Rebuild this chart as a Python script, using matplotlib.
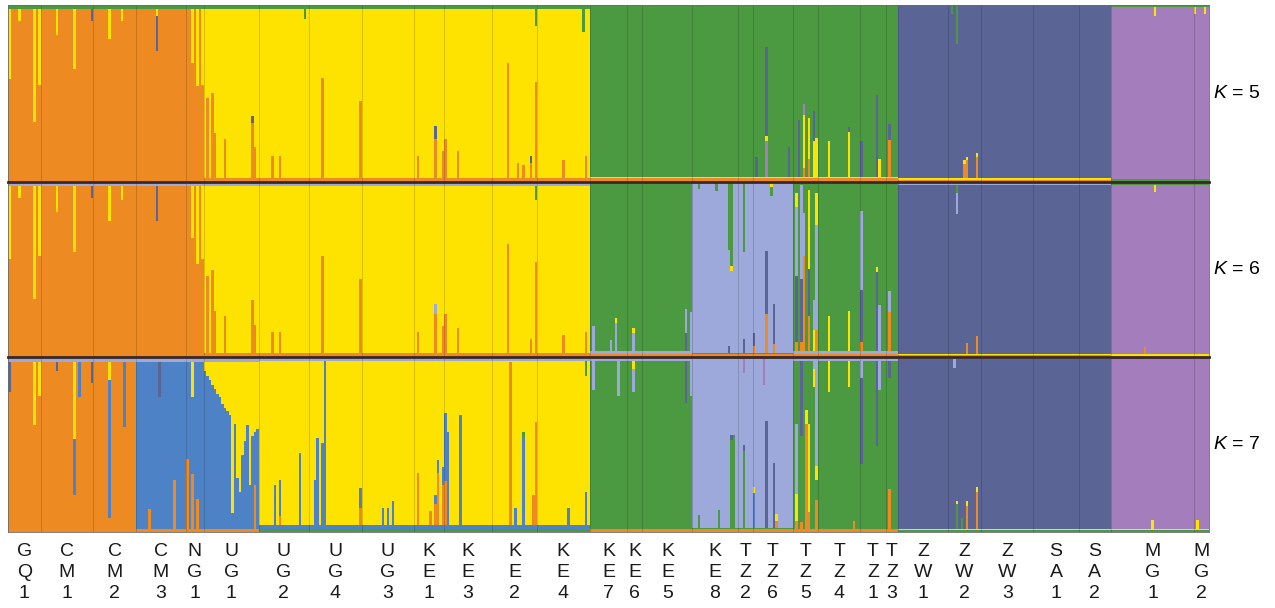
import numpy as np
import matplotlib.pyplot as plt
import matplotlib.transforms as mtransforms

plt.rcParams['font.family'] = ['Liberation Sans', 'DejaVu Sans']
plt.rcParams['mathtext.fontset'] = 'custom'
plt.rcParams['mathtext.rm'] = 'Liberation Sans'
plt.rcParams['mathtext.it'] = 'Liberation Sans:italic'

# populations in plotting order, and number of individuals in each
POPS = ['GQ1', 'CM1', 'CM2', 'CM3', 'NG1', 'UG1', 'UG2', 'UG4', 'UG3', 'KE1',
        'KE3', 'KE2', 'KE4', 'KE7', 'KE6', 'KE5', 'KE8', 'TZ2', 'TZ6', 'TZ5',
        'TZ4', 'TZ1', 'TZ3', 'ZW1', 'ZW2', 'ZW3', 'SA1', 'SA2', 'MG1', 'MG2']
N_IND = [13, 21, 17, 20, 7, 22, 20, 21, 21, 12,
         19, 18, 21, 15, 6, 20, 18, 6, 16, 10,
         17, 10, 5, 20, 13, 21, 18, 13, 33, 6]

# cluster colours: O orange, Y yellow, G green, S slate, P purple, L light blue, B blue
COLORS = {'O': '#EE8A22', 'Y': '#FFE300', 'G': '#4B9A42', 'S': '#5A6596',
          'P': '#A37DBC', 'L': '#9CA9DA', 'B': '#4E82C7'}

# main cluster of each population
DOM_K5 = ['O', 'O', 'O', 'O', 'O', 'Y', 'Y', 'Y', 'Y', 'Y',
          'Y', 'Y', 'Y', 'G', 'G', 'G', 'G', 'G', 'G', 'G',
          'G', 'G', 'G', 'S', 'S', 'S', 'S', 'S', 'P', 'P']
DOM_K6 = ['O', 'O', 'O', 'O', 'O', 'Y', 'Y', 'Y', 'Y', 'Y',
          'Y', 'Y', 'Y', 'G', 'G', 'G', 'L', 'L', 'L', 'G',
          'G', 'G', 'G', 'S', 'S', 'S', 'S', 'S', 'P', 'P']
DOM_K7 = ['O', 'O', 'O', 'B', 'B', 'B', 'Y', 'Y', 'Y', 'Y',
          'Y', 'Y', 'Y', 'G', 'G', 'G', 'L', 'L', 'L', 'G',
          'G', 'G', 'G', 'S', 'S', 'S', 'S', 'S', 'P', 'P']

# thin background admixture band, by main cluster: (cluster, fraction, side)
BANDS_K5 = {'O': [('G', 0.02, 't')],
            'Y': [('O', 0.025, 'b'), ('G', 0.02, 't')],
            'G': [('O', 0.02, 'b'), ('Y', 0.01, 'b')],
            'S': [('O', 0.01, 'b'), ('Y', 0.012, 'b')],
            'P': [('G', 0.015, 'b'), ('G', 0.012, 't')]}
BANDS_K6 = {'O': [('L', 0.02, 't')],
            'Y': [('O', 0.025, 'b'), ('L', 0.02, 't')],
            'G': [('O', 0.02, 'b'), ('L', 0.015, 'b')],
            'L': [('O', 0.015, 'b'), ('G', 0.01, 'b')],
            'S': [('O', 0.01, 'b'), ('Y', 0.01, 'b'), ('L', 0.015, 't')],
            'P': [('Y', 0.015, 'b'), ('G', 0.015, 't')]}
BANDS_K7 = {'O': [('L', 0.03, 't')],
            'B': [('O', 0.02, 'b'), ('L', 0.03, 't')],
            'Y': [('G', 0.02, 'b'), ('B', 0.02, 'b'), ('L', 0.02, 't')],
            'G': [('O', 0.015, 'b'), ('L', 0.02, 't')],
            'L': [('O', 0.015, 'b'), ('G', 0.01, 'b')],
            'S': [('G', 0.01, 'b'), ('Y', 0.008, 'b'), ('L', 0.01, 't')],
            'P': [('G', 0.012, 'b'), ('Y', 0.008, 'b')]}

# admixed individuals: (population, index in population, cluster, fraction, side)
SPIKES_K5 = [
    ('GQ1', 0, 'Y', 0.40, 't'), ('GQ1', 4, 'Y', 0.07, 't'), ('GQ1', 10, 'Y', 0.64, 't'),
    ('GQ1', 12, 'Y', 0.43, 't'), ('CM1', 6, 'Y', 0.15, 't'), ('CM1', 13, 'Y', 0.34, 't'),
    ('CM1', 20, 'S', 0.07, 't'), ('CM2', 6, 'Y', 0.17, 't'), ('CM2', 11, 'Y', 0.07, 't'),
    ('CM3', 8, 'Y', 0.04, 't'), ('CM3', 8, 'S', 0.20, 't'), ('NG1', 2, 'Y', 0.31, 't'),
    ('NG1', 4, 'Y', 0.44, 't'), ('NG1', 6, 'Y', 0.43, 't'),
    ('UG1', 1, 'O', 0.45, 'b'), ('UG1', 3, 'O', 0.48, 'b'), ('UG1', 4, 'O', 0.25, 'b'),
    ('UG1', 8, 'O', 0.22, 'b'), ('UG1', 19, 'O', 0.31, 'b'), ('UG1', 19, 'S', 0.04, 'b'),
    ('UG1', 20, 'O', 0.17, 'b'), ('UG2', 5, 'O', 0.12, 'b'), ('UG2', 8, 'O', 0.12, 'b'),
    ('UG2', 18, 'G', 0.06, 't'), ('UG4', 5, 'O', 0.56, 'b'), ('UG4', 20, 'O', 0.43, 'b'),
    ('KE1', 1, 'O', 0.12, 'b'), ('KE1', 8, 'O', 0.22, 'b'), ('KE1', 8, 'S', 0.07, 'b'),
    ('KE1', 11, 'O', 0.15, 'b'), ('KE3', 0, 'O', 0.22, 'b'), ('KE3', 5, 'O', 0.15, 'b'),
    ('KE2', 6, 'O', 0.65, 'b'), ('KE2', 10, 'O', 0.08, 'b'), ('KE2', 12, 'O', 0.07, 'b'),
    ('KE2', 15, 'O', 0.08, 'b'), ('KE2', 15, 'S', 0.04, 'b'), ('KE2', 17, 'O', 0.54, 'b'),
    ('KE2', 17, 'G', 0.10, 't'), ('KE4', 10, 'O', 0.10, 'b'), ('KE4', 18, 'G', 0.13, 't'),
    ('KE4', 19, 'O', 0.12, 'b'),
    ('TZ6', 1, 'S', 0.11, 'b'), ('TZ6', 5, 'P', 0.20, 'b'), ('TZ6', 5, 'Y', 0.03, 'b'),
    ('TZ6', 5, 'S', 0.50, 'b'), ('TZ6', 14, 'S', 0.17, 'b'), ('TZ5', 2, 'S', 0.32, 'b'),
    ('TZ5', 4, 'O', 0.05, 'b'), ('TZ5', 4, 'Y', 0.30, 'b'), ('TZ5', 4, 'P', 0.06, 'b'),
    ('TZ5', 6, 'O', 0.10, 'b'), ('TZ5', 6, 'Y', 0.23, 'b'), ('TZ5', 8, 'Y', 0.20, 'b'),
    ('TZ5', 8, 'S', 0.17, 'b'), ('TZ5', 9, 'Y', 0.22, 'b'), ('TZ4', 4, 'Y', 0.20, 'b'),
    ('TZ4', 12, 'Y', 0.25, 'b'), ('TZ4', 12, 'S', 0.03, 'b'), ('TZ1', 0, 'S', 0.20, 'b'),
    ('TZ1', 6, 'S', 0.46, 'b'), ('TZ1', 7, 'Y', 0.10, 'b'), ('TZ3', 1, 'O', 0.21, 'b'),
    ('TZ3', 1, 'S', 0.09, 'b'),
    ('ZW2', 1, 'G', 0.05, 't'), ('ZW2', 3, 'G', 0.22, 't'), ('ZW2', 6, 'O', 0.08, 'b'),
    ('ZW2', 6, 'Y', 0.02, 'b'), ('ZW2', 7, 'O', 0.10, 'b'), ('ZW2', 7, 'Y', 0.02, 'b'),
    ('ZW2', 11, 'O', 0.12, 'b'), ('ZW2', 11, 'Y', 0.02, 'b'), ('MG1', 17, 'Y', 0.05, 't'),
    ('MG2', 0, 'Y', 0.04, 't'), ('MG2', 4, 'Y', 0.04, 't'),
]

SPIKES_K6 = [
    ('GQ1', 0, 'Y', 0.42, 't'), ('GQ1', 4, 'Y', 0.07, 't'), ('GQ1', 10, 'Y', 0.65, 't'),
    ('GQ1', 12, 'Y', 0.40, 't'), ('CM1', 6, 'Y', 0.15, 't'), ('CM1', 13, 'Y', 0.38, 't'),
    ('CM1', 20, 'S', 0.07, 't'), ('CM2', 6, 'Y', 0.20, 't'), ('CM2', 11, 'Y', 0.08, 't'),
    ('CM3', 8, 'S', 0.20, 't'), ('NG1', 2, 'Y', 0.30, 't'), ('NG1', 4, 'Y', 0.45, 't'),
    ('NG1', 6, 'Y', 0.42, 't'),
    ('UG1', 1, 'O', 0.44, 'b'), ('UG1', 3, 'O', 0.47, 'b'), ('UG1', 4, 'O', 0.24, 'b'),
    ('UG1', 8, 'O', 0.21, 'b'), ('UG1', 19, 'O', 0.30, 'b'), ('UG1', 20, 'O', 0.16, 'b'),
    ('UG2', 5, 'O', 0.12, 'b'), ('UG2', 8, 'O', 0.12, 'b'), ('UG4', 5, 'O', 0.55, 'b'),
    ('UG4', 20, 'O', 0.42, 'b'), ('KE1', 1, 'O', 0.12, 'b'), ('KE1', 8, 'O', 0.22, 'b'),
    ('KE1', 8, 'L', 0.06, 'b'), ('KE1', 11, 'O', 0.15, 'b'), ('KE3', 0, 'O', 0.22, 'b'),
    ('KE3', 5, 'O', 0.14, 'b'), ('KE2', 6, 'O', 0.62, 'b'), ('KE2', 15, 'O', 0.08, 'b'),
    ('KE2', 17, 'O', 0.52, 'b'), ('KE2', 17, 'G', 0.08, 't'), ('KE4', 10, 'O', 0.10, 'b'),
    ('KE4', 19, 'O', 0.12, 'b'),
    ('KE7', 1, 'L', 0.14, 'b'), ('KE7', 8, 'L', 0.06, 'b'), ('KE7', 10, 'L', 0.16, 'b'),
    ('KE7', 10, 'Y', 0.03, 'b'), ('KE6', 2, 'L', 0.10, 'b'), ('KE6', 2, 'Y', 0.03, 'b'),
    ('KE5', 17, 'S', 0.10, 'b'), ('KE5', 17, 'L', 0.14, 'b'), ('KE5', 19, 'L', 0.22, 'b'),
    ('KE8', 2, 'G', 0.04, 't'), ('KE8', 9, 'G', 0.05, 't'), ('KE8', 14, 'G', 0.39, 't'),
    ('KE8', 14, 'S', 0.04, 'b'), ('KE8', 15, 'G', 0.48, 't'), ('KE8', 15, 'Y', 0.03, 't'),
    ('TZ2', 2, 'G', 0.40, 't'), ('TZ2', 2, 'S', 0.08, 'b'), ('TZ6', 0, 'O', 0.04, 'b'),
    ('TZ6', 0, 'S', 0.07, 'b'), ('TZ6', 5, 'O', 0.22, 'b'), ('TZ6', 5, 'S', 0.36, 'b'),
    ('TZ6', 7, 'Y', 0.03, 't'), ('TZ6', 7, 'G', 0.05, 't'), ('TZ6', 8, 'O', 0.05, 'b'),
    ('TZ6', 8, 'S', 0.23, 'b'),
    ('TZ5', 1, 'O', 0.05, 'b'), ('TZ5', 1, 'S', 0.38, 'b'), ('TZ5', 1, 'L', 0.39, 'b'),
    ('TZ5', 1, 'Y', 0.08, 'b'), ('TZ5', 3, 'O', 0.05, 'b'), ('TZ5', 3, 'S', 0.36, 'b'),
    ('TZ5', 3, 'L', 0.54, 'b'), ('TZ5', 4, 'O', 0.54, 'b'), ('TZ5', 4, 'L', 0.25, 'b'),
    ('TZ5', 6, 'O', 0.20, 'b'), ('TZ5', 6, 'S', 0.27, 'b'), ('TZ5', 6, 'Y', 0.45, 'b'),
    ('TZ5', 8, 'Y', 0.12, 'b'), ('TZ5', 8, 'L', 0.17, 'b'), ('TZ5', 9, 'O', 0.12, 'b'),
    ('TZ5', 9, 'L', 0.60, 'b'), ('TZ5', 9, 'Y', 0.18, 'b'), ('TZ4', 4, 'Y', 0.20, 'b'),
    ('TZ4', 12, 'Y', 0.23, 'b'), ('TZ1', 0, 'O', 0.05, 'b'), ('TZ1', 0, 'S', 0.30, 'b'),
    ('TZ1', 0, 'L', 0.45, 'b'), ('TZ1', 6, 'S', 0.45, 'b'), ('TZ1', 6, 'Y', 0.03, 'b'),
    ('TZ1', 7, 'L', 0.26, 'b'), ('TZ3', 1, 'O', 0.22, 'b'), ('TZ3', 1, 'L', 0.12, 'b'),
    ('ZW2', 3, 'G', 0.05, 't'), ('ZW2', 3, 'L', 0.12, 't'), ('ZW2', 7, 'O', 0.06, 'b'),
    ('ZW2', 11, 'O', 0.10, 'b'), ('MG1', 13, 'O', 0.04, 'b'), ('MG1', 17, 'Y', 0.04, 't'),
]

# UG1 at K = 7: yellow share from the top of each individual
UG1_K7_YELLOW = [0.05, 0.08, 0.10, 0.13, 0.15, 0.18, 0.20, 0.24, 0.26, 0.28, 0.30,
                 0.86, 0.35, 0.66, 0.74, 0.53, 0.45, 0.36, 0.70, 0.42, 0.40, 0.38]

SPIKES_K7 = [
    ('GQ1', 0, 'S', 0.17, 't'), ('GQ1', 10, 'Y', 0.36, 't'), ('GQ1', 12, 'Y', 0.19, 't'),
    ('CM1', 6, 'S', 0.05, 't'), ('CM1', 13, 'Y', 0.44, 't'), ('CM1', 13, 'B', 0.32, 't'),
    ('CM1', 15, 'B', 0.20, 't'), ('CM1', 20, 'S', 0.12, 't'), ('CM2', 6, 'Y', 0.10, 't'),
    ('CM2', 6, 'B', 0.79, 't'), ('CM2', 12, 'B', 0.37, 't'),
    ('CM3', 5, 'O', 0.11, 'b'), ('CM3', 9, 'S', 0.20, 't'), ('CM3', 15, 'O', 0.28, 'b'),
    ('NG1', 0, 'O', 0.40, 'b'), ('NG1', 2, 'O', 0.31, 'b'), ('NG1', 2, 'Y', 0.20, 't'),
    ('NG1', 4, 'O', 0.17, 'b'), ('UG1', 20, 'O', 0.25, 'b'),
    ('UG2', 6, 'B', 0.23, 'b'), ('UG2', 8, 'O', 0.05, 'b'), ('UG2', 8, 'B', 0.21, 'b'),
    ('UG2', 16, 'B', 0.41, 'b'), ('UG4', 2, 'B', 0.26, 'b'), ('UG4', 3, 'B', 0.50, 'b'),
    ('UG4', 5, 'B', 0.47, 'b'), ('UG4', 6, 'B', 0.94, 'b'), ('UG4', 20, 'O', 0.10, 'b'),
    ('UG4', 20, 'B', 0.11, 'b'), ('UG3', 8, 'B', 0.10, 'b'), ('UG3', 10, 'B', 0.10, 'b'),
    ('UG3', 12, 'B', 0.14, 'b'), ('KE1', 1, 'O', 0.30, 'b'), ('KE1', 6, 'O', 0.08, 'b'),
    ('KE1', 8, 'O', 0.12, 'b'), ('KE1', 8, 'B', 0.05, 'b'), ('KE1', 9, 'O', 0.30, 'b'),
    ('KE1', 9, 'B', 0.07, 'b'), ('KE1', 11, 'O', 0.23, 'b'), ('KE1', 11, 'B', 0.10, 'b'),
    ('KE3', 0, 'O', 0.25, 'b'), ('KE3', 0, 'B', 0.39, 'b'), ('KE3', 1, 'B', 0.53, 'b'),
    ('KE3', 6, 'B', 0.63, 'b'), ('KE2', 7, 'O', 0.93, 'b'), ('KE2', 9, 'B', 0.10, 'b'),
    ('KE2', 12, 'B', 0.50, 'b'), ('KE2', 12, 'G', 0.03, 'b'), ('KE2', 16, 'O', 0.17, 'b'),
    ('KE2', 17, 'O', 0.59, 'b'), ('KE4', 12, 'B', 0.10, 'b'), ('KE4', 19, 'B', 0.19, 'b'),
    ('KE4', 19, 'G', 0.09, 't'),
    ('KE7', 1, 'L', 0.17, 't'), ('KE7', 11, 'L', 0.20, 't'), ('KE6', 2, 'Y', 0.05, 't'),
    ('KE6', 2, 'L', 0.13, 't'), ('KE5', 17, 'S', 0.24, 't'), ('KE5', 19, 'L', 0.20, 't'),
    ('KE8', 2, 'G', 0.07, 'b'), ('KE8', 10, 'G', 0.10, 'b'), ('KE8', 15, 'G', 0.50, 'b'),
    ('KE8', 15, 'S', 0.03, 'b'), ('KE8', 16, 'G', 0.53, 'b'), ('TZ2', 2, 'G', 0.44, 'b'),
    ('TZ2', 2, 'S', 0.03, 'b'), ('TZ2', 2, 'P', 0.09, 't'), ('TZ6', 0, 'B', 0.20, 'b'),
    ('TZ6', 0, 'Y', 0.03, 'b'), ('TZ6', 4, 'P', 0.16, 't'), ('TZ6', 5, 'S', 0.61, 'b'),
    ('TZ6', 8, 'S', 0.37, 'b'), ('TZ6', 9, 'O', 0.04, 'b'), ('TZ6', 9, 'Y', 0.04, 'b'),
    ('TZ5', 1, 'O', 0.05, 'b'), ('TZ5', 1, 'Y', 0.15, 'b'), ('TZ5', 1, 'L', 0.40, 'b'),
    ('TZ5', 3, 'S', 0.43, 't'), ('TZ5', 3, 'O', 0.04, 'b'), ('TZ5', 5, 'O', 0.60, 'b'),
    ('TZ5', 5, 'Y', 0.08, 'b'), ('TZ5', 6, 'O', 0.10, 'b'), ('TZ5', 6, 'Y', 0.50, 'b'),
    ('TZ5', 8, 'L', 0.05, 't'), ('TZ5', 8, 'Y', 0.10, 't'), ('TZ5', 9, 'L', 0.60, 't'),
    ('TZ5', 9, 'Y', 0.08, 't'), ('TZ5', 9, 'O', 0.17, 'b'), ('TZ4', 4, 'Y', 0.18, 't'),
    ('TZ4', 12, 'Y', 0.15, 't'), ('TZ4', 14, 'O', 0.05, 'b'), ('TZ1', 0, 'L', 0.10, 't'),
    ('TZ1', 0, 'S', 0.49, 't'), ('TZ1', 6, 'S', 0.49, 't'), ('TZ1', 7, 'L', 0.17, 't'),
    ('TZ3', 1, 'S', 0.10, 't'), ('TZ3', 1, 'O', 0.23, 'b'),
    ('ZW2', 2, 'L', 0.05, 't'), ('ZW2', 3, 'G', 0.14, 'b'), ('ZW2', 3, 'Y', 0.02, 'b'),
    ('ZW2', 5, 'G', 0.06, 'b'), ('ZW2', 7, 'O', 0.13, 'b'), ('ZW2', 7, 'Y', 0.03, 'b'),
    ('ZW2', 11, 'O', 0.21, 'b'), ('ZW2', 11, 'Y', 0.03, 'b'), ('MG1', 16, 'Y', 0.05, 'b'),
    ('MG2', 1, 'Y', 0.05, 'b'),
]
SPIKES_K7 += [('UG1', i, 'Y', v, 't') for i, v in enumerate(UG1_K7_YELLOW)]


def build_segments(dom, bands, spikes):
    # one list of (cluster, fraction) per individual, from bottom to top
    bottoms, tops, doms = [], [], []
    for p, n in enumerate(N_IND):
        for i in range(n):
            b = [(c, f) for c, f, s in bands[dom[p]] if s == 'b']
            t = [(c, f) for c, f, s in bands[dom[p]] if s == 't']
            bottoms.append(b)
            tops.append(t)
            doms.append(dom[p])
    start = np.concatenate([[0], np.cumsum(N_IND)[:-1]])
    for pop, idx, c, f, side in spikes:
        k = start[POPS.index(pop)] + idx
        (bottoms if side == 'b' else tops)[k].append((c, f))
    segs = []
    for b, t, d in zip(bottoms, tops, doms):
        rest = max(0.0, 1.0 - sum(f for _, f in b) - sum(f for _, f in t))
        segs.append(b + [(d, rest)] + t[::-1])
    return segs


def draw_panel(ax, segs):
    nlayer = max(len(s) for s in segs)
    cum = np.zeros(len(segs))
    for j in range(nlayer):
        xs, hs, bs, cs = [], [], [], []
        for i, s in enumerate(segs):
            if j < len(s):
                c, f = s[j]
                xs.append(i)
                hs.append(f)
                bs.append(cum[i])
                cs.append(COLORS[c])
                cum[i] += f
        ax.bar(xs, hs, bottom=bs, width=1.0, align='edge', color=cs, linewidth=0)
    bounds = np.cumsum(N_IND)[:-1]
    ax.vlines(bounds, 0, 1, color='black', alpha=0.18, linewidth=0.6)
    ax.set_xlim(0, sum(N_IND))
    ax.set_ylim(0, 1)
    ax.set_xticks([])
    ax.set_yticks([])
    for sp in ax.spines.values():
        sp.set_color('#6a6a6a')
        sp.set_linewidth(0.6)


fig = plt.figure(figsize=(12.75, 6.08), dpi=100)
L, W = 8 / 1275, 1201 / 1275
rects = [(5, 182), (182, 357), (357, 532)]
data = [(DOM_K5, BANDS_K5, SPIKES_K5), (DOM_K6, BANDS_K6, SPIKES_K6),
        (DOM_K7, BANDS_K7, SPIKES_K7)]
names = ['$K$ = 5', '$K$ = 6', '$K$ = 7']
axes = []
for (top, bot), (dom, bands, spikes), name in zip(rects, data, names):
    ax = fig.add_axes([L, 1 - bot / 608, W, (bot - top) / 608])
    draw_panel(ax, build_segments(dom, bands, spikes))
    fig.text(1213 / 1275, 1 - (top + bot) / 2 / 608, name, fontsize=14,
             ha='left', va='center')
    axes.append(ax)

# dark rule between panels
for ax in axes[1:]:
    ax.axhline(1, color='#3a2828', linewidth=2, clip_on=False, zorder=5)

# stacked population labels under the bottom panel
ax = axes[-1]
trans = mtransforms.blended_transform_factory(ax.transData, ax.transAxes)
start = np.concatenate([[0], np.cumsum(N_IND)[:-1]])
for pop, s, n in zip(POPS, start, N_IND):
    for r, ch in enumerate(pop):
        ax.text(s + n / 2, [-0.109, -0.229, -0.354][r], ch, transform=trans,
                ha='center', va='center', fontsize=14, color='#1a1a1a')

fig.savefig('out.png', dpi=100)
